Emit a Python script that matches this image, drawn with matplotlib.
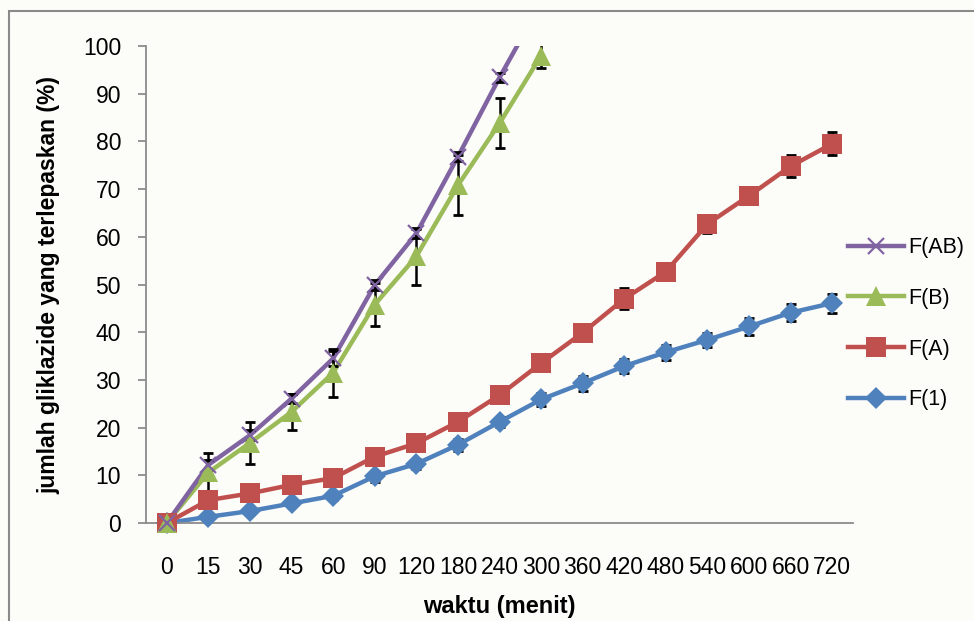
import numpy as np
import matplotlib
matplotlib.use("Agg")
import matplotlib.pyplot as plt
from matplotlib.patches import Rectangle

# drug release data
waktu = ["0", "15", "30", "45", "60", "90", "120", "180", "240",
         "300", "360", "420", "480", "540", "600", "660", "720"]

f_1 = [0, 1.3, 2.5, 4.1, 5.7, 9.8, 12.4, 16.4, 21.2, 25.9, 29.3,
       32.9, 35.8, 38.4, 41.2, 44.1, 46.1]
f_1_err = [0, 0.6, 0.6, 0.6, 0.8, 1.2, 1.0, 1.2, 1.0, 1.4, 1.6,
           1.4, 1.6, 1.5, 1.7, 1.8, 2.0]

f_a = [0, 4.8, 6.2, 8.0, 9.4, 13.9, 16.7, 21.2, 26.8, 33.5, 39.9,
       47.0, 52.7, 62.7, 68.6, 74.8, 79.5]
f_a_err = [0, 0.8, 0.8, 0.8, 0.8, 1.0, 1.0, 1.0, 1.2, 1.2, 1.2,
           2.2, 1.2, 1.8, 1.8, 2.3, 2.4]

f_b = [0, 10.6, 16.8, 23.3, 31.5, 45.8, 55.9, 70.8, 83.8, 98.0]
f_b_err = [0, 4.1, 4.4, 3.7, 5.0, 4.5, 5.9, 6.3, 5.2, 2.6]

f_ab = [0, 12.2, 18.4, 26.1, 34.5, 49.9, 60.7, 76.8, 93.4, 109.0]
f_ab_err = [0, 1.0, 1.0, 1.0, 1.5, 1.0, 1.0, 1.0, 1.0, 0]

c_1 = "#4F81BD"
c_a = "#C0504D"
c_b = "#9BBB59"
c_ab = "#8064A2"

plt.rcParams["font.family"] = ["Liberation Sans", "DejaVu Sans"]

fig = plt.figure(figsize=(9.74, 6.21), dpi=100, facecolor="#fcfcf9")
ax = fig.add_axes([0.1499, 0.1578, 0.7259, 0.7681])
ax.set_facecolor("none")

x = np.arange(len(waktu))

# clip region open at the bottom so markers at 0 are not cut
clip = Rectangle((-0.1, -0.2), 1.2, 1.2, transform=ax.transAxes)

series = [
    (f_1, f_1_err, c_1, "D", 11, "F(1)"),
    (f_a, f_a_err, c_a, "s", 14.5, "F(A)"),
    (f_b, f_b_err, c_b, "^", 14, "F(B)"),
    (f_ab, f_ab_err, c_ab, "x", 12, "F(AB)"),
]

handles = []
for k, (vals, err, col, mk, ms, lab) in enumerate(series):
    xi = x[:len(vals)]
    # line under the error bars, markers on top of them
    ln, = ax.plot(xi, vals, color=col, lw=3.2, zorder=2 + 0.01 * k)
    ln.set_clip_path(clip)
    eb = ax.errorbar(xi, vals, yerr=err, fmt="none", ecolor="black",
                     elinewidth=1.8, capsize=3.6, capthick=2.0, zorder=3)
    for art in eb.get_children():
        art.set_clip_path(clip)
    mkl, = ax.plot(xi, vals, ls="none", marker=mk, ms=ms, mew=1.6 if mk == "x" else 0,
                   color=col, zorder=4 + 0.01 * k)
    mkl.set_clip_path(clip)
    h, = ax.plot([], [], color=col, lw=3.2, marker=mk, ms=ms,
                 mew=1.6 if mk == "x" else 0, label=lab)
    handles.append(h)

ax.set_xlim(-0.5, len(waktu) - 0.5)
ax.set_ylim(0, 100)
ax.set_yticks(np.arange(0, 101, 10))
ax.set_xticks(x)
ax.set_xticklabels(waktu)

for s in ["top", "right"]:
    ax.spines[s].set_visible(False)
for s in ["left", "bottom"]:
    ax.spines[s].set_color("#8c8c8c")
    ax.spines[s].set_linewidth(1.3)

ax.tick_params(axis="y", length=6, width=1.3, color="#8c8c8c",
               labelsize=16.5, pad=12)
ax.tick_params(axis="x", length=0, labelsize=16.5, pad=24)

ax.set_xlabel("waktu (menit)", fontsize=17, fontweight="bold", labelpad=11)
ax.set_ylabel("jumlah gliklazide yang terlepaskan (%)", fontsize=16.5,
              fontweight="bold", labelpad=16)

leg = fig.legend(handles[::-1], [h.get_label() for h in handles[::-1]],
                 loc="upper left", bbox_to_anchor=(0.862, 0.632),
                 frameon=False, fontsize=15.5, handlelength=2.6,
                 handletextpad=0.2, labelspacing=1.38, borderaxespad=0)

# chart area border
fig.patches.append(Rectangle((9 / 974, -0.1), 1.1, 1.1 - 11 / 621,
                             transform=fig.transFigure, fill=False,
                             edgecolor="#8a8a8a", linewidth=1.5))

fig.savefig("out.png", dpi=100, facecolor=fig.get_facecolor())
